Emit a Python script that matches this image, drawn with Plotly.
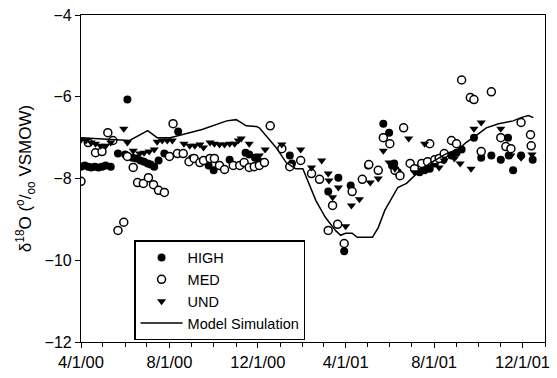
import pandas as pd
import plotly.graph_objects as go

START = pd.Timestamp("2000-04-01")

# Days after 1 Apr 2000 and delta-18O values (per mil VSMOW)
high_days = [0, 5, 10, 14, 19, 24, 29, 34, 41, 64, 51, 61, 71, 76, 82, 87, 92, 96, 101, 107, 115, 134,
             153, 176, 183, 205, 227, 232, 240, 246, 288, 291,
             341, 355, 372, 363, 396, 417, 425, 432, 437,
             429, 467, 474, 481, 488, 500, 511, 518, 525, 542, 552, 566, 579, 589, 590, 596, 607, 623]
high_vals = [-7.71, -7.68, -7.71, -7.73, -7.71, -7.73, -7.71, -7.68, -7.71, -6.07, -7.39, -7.41, -7.49, -7.51,
             -7.56, -7.59, -7.63, -7.66, -7.71, -7.56, -7.39, -6.85,
             -7.51, -7.68, -7.80, -7.54, -7.37, -7.41, -7.49, -7.59, -7.44, -7.63,
             -8.32, -7.98, -8.17, -9.78, -7.68, -6.66, -6.88, -7.63, -7.85,
             -7.68, -7.85, -7.80, -7.76, -7.63, -7.54, -7.44, -7.37, -7.29, -7.00, -7.49, -7.44, -7.54,
             -7.00, -7.44, -7.80, -7.44, -7.54]

med_days = [0, 10, 20, 29, 37, 44, 51, 59, 64, 72, 78, 86, 93, 100, 107, 115, 122, 127, 133, 141, 149, 156, 164,
            169, 178, 184, 191, 198, 210, 219, 225, 232, 239, 246, 253, 261, 277, 288, 303, 318, 329,
            341, 354, 347, 363, 374, 388, 397, 410, 417, 426, 445, 481, 433, 440, 454, 460, 470, 478, 488,
            525, 537, 542, 566, 511, 518, 494, 501, 552, 579, 586, 593, 607, 620, 621]
med_vals = [-8.07, -7.12, -7.37, -7.34, -6.88, -7.07, -9.27, -9.07, -7.46, -7.73, -8.10, -8.12, -7.98, -8.15,
            -8.29, -8.34, -7.46, -6.66, -7.39, -7.39, -7.59, -7.51, -7.61,
            -7.56, -7.51, -7.51, -7.68, -7.78, -7.68, -7.68, -7.61, -7.73, -7.71, -7.68, -7.61, -6.71, -7.27,
            -7.71, -7.56, -7.88, -8.02,
            -9.27, -9.12, -8.66, -9.59, -8.32, -8.02, -7.66, -7.80, -7.00, -7.15, -6.76, -7.15, -7.80, -7.93,
            -7.63, -7.76, -7.63, -7.59, -7.54,
            -5.59, -6.02, -6.07, -5.88, -7.07, -7.15, -7.51, -7.39, -7.34, -7.00, -7.22, -7.27, -6.63, -6.93, -7.20]

und_days = [0, 7, 14, 20, 27, 34, 41, 59, 64, 72, 81, 87, 94, 101, 105, 112, 119, 126, 142, 150, 157, 164,
            169, 178, 184, 191, 198, 205, 212, 217, 221, 232, 246, 254, 277, 303, 318,
            332, 341, 342, 355, 347, 365, 373, 384, 399, 410, 417, 452, 474, 425, 433, 460, 470,
            542, 552, 579, 494, 501, 515, 523, 538, 593, 607, 622]
und_vals = [-7.05, -7.07, -7.12, -7.15, -7.20, -7.20, -7.12, -6.78, -7.12, -7.32, -7.39, -7.37, -7.34, -7.29,
            -7.10, -7.07, -7.07, -7.07, -7.15, -7.20, -7.20, -7.17,
            -7.24, -7.12, -7.15, -7.17, -7.17, -7.15, -7.15, -7.07, -7.02, -7.15, -7.44, -7.29, -7.17, -7.29,
            -7.73,
            -7.56, -7.88, -8.05, -8.22, -8.46, -9.17, -8.66, -8.51, -8.10, -8.00, -7.32, -7.02, -7.15, -7.61,
            -7.76, -7.85, -7.80,
            -6.78, -6.63, -6.78, -7.73, -7.56, -7.51, -7.63, -7.76, -7.44, -7.49, -7.41]

model_days = [0, 67, 92, 105, 123, 149, 167, 201, 214, 228, 242, 246, 269, 283, 296, 306, 324, 337, 351, 358,
              365, 374, 381, 402, 410, 419, 429, 437, 449, 463, 481, 504, 522, 531, 545, 559, 576, 596, 607,
              617, 624]
model_vals = [-7.00, -7.07, -6.83, -7.00, -7.00, -6.88, -6.80, -6.59, -6.56, -6.71, -6.73, -6.76, -7.24, -7.61,
              -7.76, -7.76, -8.54, -8.95, -9.27, -9.39, -9.34, -9.34, -9.44, -9.44, -9.20, -8.78, -8.46, -8.22,
              -8.12, -7.88, -7.63, -7.39, -7.27, -7.12, -6.95, -6.76, -6.66, -6.59, -6.51, -6.46, -6.51]

tick_dates = ["2000-04-01", "2000-08-01", "2000-12-01", "2001-04-01", "2001-08-01", "2001-12-01"]
tick_labels = ["4/1/00", "8/1/00", "12/1/00", "4/1/01", "8/1/01", "12/1/01"]


def to_dates(days):
    return START + pd.to_timedelta(days, unit="D")


FONT = "Liberation Sans, Arial, sans-serif"

fig = go.Figure()
fig.add_trace(go.Scatter(x=to_dates(high_days), y=high_vals, mode="markers", name="HIGH",
                         marker=dict(symbol="circle", size=8, color="black",
                                     line=dict(color="black", width=0))))
fig.add_trace(go.Scatter(x=to_dates(med_days), y=med_vals, mode="markers", name="MED",
                         marker=dict(symbol="circle", size=8, color="white",
                                     line=dict(color="black", width=1.5))))
fig.add_trace(go.Scatter(x=to_dates(und_days), y=und_vals, mode="markers", name="UND",
                         marker=dict(symbol="triangle-down", size=8, color="black",
                                     line=dict(color="black", width=0))))
fig.add_trace(go.Scatter(x=to_dates(model_days), y=model_vals, mode="lines", name="Model Simulation",
                         line=dict(color="black", width=1.5)))

fig.update_layout(
    width=557, height=378,
    margin=dict(l=81, r=7, t=14, b=36),
    paper_bgcolor="white", plot_bgcolor="white",
    font=dict(family=FONT, color="black", size=16),
    showlegend=True,
    legend=dict(x=0.115, y=0.311, xanchor="left", yanchor="top",
                bgcolor="white", bordercolor="black", borderwidth=1.2,
                font=dict(family=FONT, size=14.5, color="black"),
                tracegroupgap=0, itemwidth=42),
)
fig.update_xaxes(
    type="date", range=["2000-04-01", "2002-01-01"],
    tickmode="array", tickvals=tick_dates, ticktext=tick_labels,
    ticks="outside", ticklen=5, tickwidth=1, tickcolor="black",
    minor=dict(dtick="M1", tick0="2000-04-01", ticks="outside", ticklen=4, tickcolor="black", showgrid=False),
    showline=True, linecolor="black", linewidth=1.2, mirror=True,
    showgrid=False, zeroline=False,
    tickfont=dict(family=FONT, size=16.5, color="black"),
)
fig.update_yaxes(
    range=[-12, -4], tickmode="linear", tick0=-12, dtick=2,
    ticks="outside", ticklen=5, tickwidth=1, tickcolor="black",
    showline=True, linecolor="black", linewidth=1.2, mirror=True,
    showgrid=False, zeroline=False,
    tickfont=dict(family=FONT, size=16, color="black"),
    title=dict(text="δ<sup>18</sup>O (<sup>o</sup>/<sub>oo</sub> VSMOW)",
               font=dict(family=FONT, size=17, color="black"), standoff=8),
)

fig.write_html("out.html")
